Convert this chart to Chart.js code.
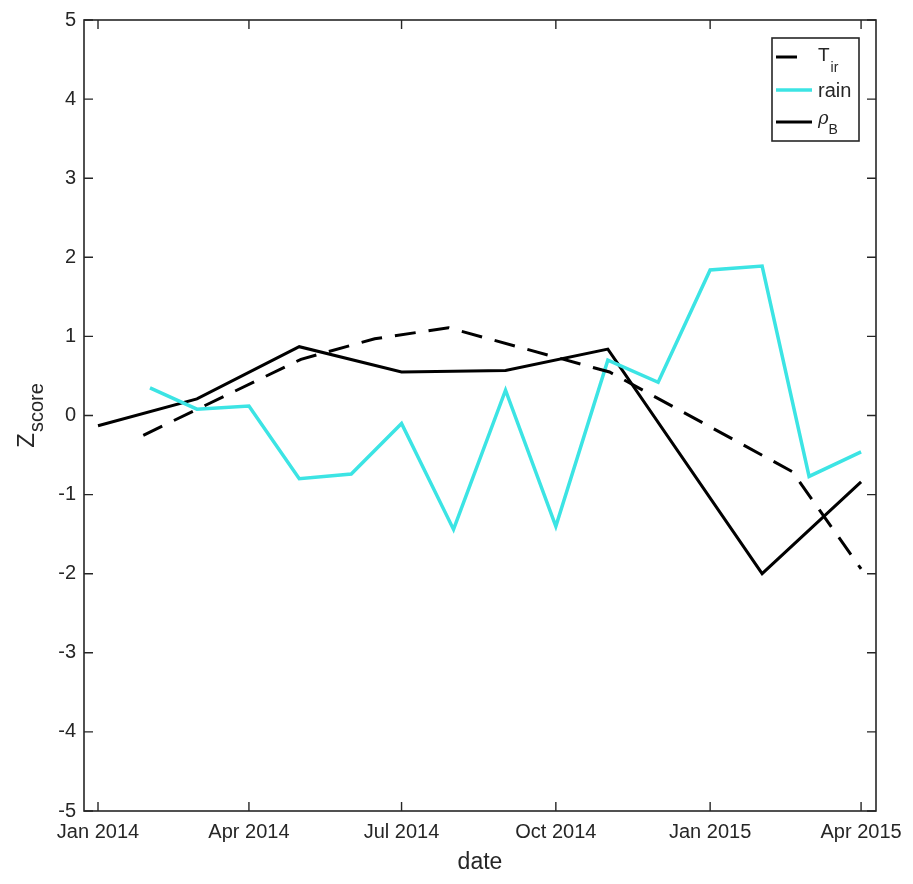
<!DOCTYPE html>
<html>
<head>
<meta charset="utf-8">
<script src="https://cdn.jsdelivr.net/npm/chart.js@4"></script>
<style>
  html, body { margin: 0; padding: 0; background: #ffffff; }
  canvas { display: block; }
</style>
</head>
<body>
<canvas id="c" width="913" height="884"></canvas>
<script>
// Axis ticks (dates) and their labels
const tickDates  = ['2014-01-01', '2014-04-01', '2014-07-01', '2014-10-01', '2015-01-01', '2015-04-01'];
const tickLabels = ['Jan 2014', 'Apr 2014', 'Jul 2014', 'Oct 2014', 'Jan 2015', 'Apr 2015'];
const yTicks     = [-5, -4, -3, -2, -1, 0, 1, 2, 3, 4, 5];

// T_ir (dashed black)
const tirDates  = ['2014-01-28', '2014-05-02', '2014-06-15', '2014-07-29', '2014-11-02', '2015-02-19', '2015-04-01'];
const tirValues = [-0.25, 0.71, 0.97, 1.11, 0.55, -0.71, -1.94];

// rain (cyan)
const rainDates  = ['2014-02-01', '2014-03-01', '2014-04-01', '2014-05-01', '2014-06-01', '2014-07-01', '2014-08-01',
                    '2014-09-01', '2014-10-01', '2014-11-01', '2014-12-01', '2015-01-01', '2015-02-01', '2015-03-01', '2015-04-01'];
const rainValues = [0.35, 0.08, 0.12, -0.80, -0.74, -0.10, -1.44, 0.32, -1.40, 0.70, 0.42, 1.84, 1.89, -0.77, -0.46];

// rho_B (solid black)
const rhoDates  = ['2014-01-01', '2014-03-01', '2014-05-01', '2014-07-01', '2014-09-01', '2014-11-01', '2015-02-01', '2015-04-01'];
const rhoValues = [-0.13, 0.21, 0.87, 0.55, 0.57, 0.84, -2.00, -0.84];

// x is measured in days since 1 Jan 2014
const ORIGIN = Date.UTC(2014, 0, 1);
const dayOf = s => (Date.parse(s + 'T00:00:00Z') - ORIGIN) / 86400000;
const toPoints = (dates, vals) => dates.map((d, i) => ({ x: dayOf(d), y: vals[i] }));

const AXIS_COLOR = '#262626';
const FONT = '"Liberation Sans", Arial, Helvetica, sans-serif';
const CYAN = 'rgb(60, 228, 228)';
const DASH = [21, 13];
const TICK_LEN = 9;

// Box around the axes with inward ticks on all four sides
const axesBox = {
  id: 'axesBox',
  afterDatasetsDraw(chart) {
    const { ctx, chartArea: a, scales: { x, y } } = chart;
    ctx.save();
    ctx.strokeStyle = AXIS_COLOR;
    ctx.lineWidth = 1.6;
    ctx.setLineDash([]);
    ctx.strokeRect(a.left, a.top, a.right - a.left, a.bottom - a.top);
    ctx.lineWidth = 1.4;
    ctx.beginPath();
    x.ticks.forEach(t => {
      const px = x.getPixelForValue(t.value);
      ctx.moveTo(px, a.bottom); ctx.lineTo(px, a.bottom - TICK_LEN);
      ctx.moveTo(px, a.top);    ctx.lineTo(px, a.top + TICK_LEN);
    });
    y.ticks.forEach(t => {
      const py = y.getPixelForValue(t.value);
      ctx.moveTo(a.left, py);  ctx.lineTo(a.left + TICK_LEN, py);
      ctx.moveTo(a.right, py); ctx.lineTo(a.right - TICK_LEN, py);
    });
    ctx.stroke();
    ctx.restore();
  }
};

// Y axis title "Z" with subscript "score"
const yTitle = {
  id: 'yTitle',
  afterDraw(chart) {
    const { ctx, chartArea: a } = chart;
    const cy = (a.top + a.bottom) / 2;
    ctx.save();
    ctx.fillStyle = AXIS_COLOR;
    ctx.textBaseline = 'alphabetic';
    ctx.textAlign = 'left';
    ctx.font = '24px ' + FONT;
    const zw = ctx.measureText('Z').width;
    ctx.font = '20px ' + FONT;
    const sw = ctx.measureText('score').width;
    const total = zw + 1 + sw;
    ctx.translate(34, cy + total / 2);
    ctx.rotate(-Math.PI / 2);
    ctx.font = '24px ' + FONT;
    ctx.fillText('Z', 0, 0);
    ctx.font = '20px ' + FONT;
    ctx.fillText('score', zw + 1, 9);
    ctx.restore();
  }
};

// Legend box in the upper right corner of the axes
const legendBox = {
  id: 'legendBox',
  afterDraw(chart) {
    const { ctx, chartArea: a } = chart;
    const bx = a.right - 104, by = a.top + 18, bw = 87, bh = 103;
    const ds = chart.data.datasets;
    ctx.save();
    ctx.fillStyle = '#ffffff';
    ctx.fillRect(bx, by, bw, bh);
    ctx.strokeStyle = AXIS_COLOR;
    ctx.lineWidth = 1.6;
    ctx.strokeRect(bx, by, bw, bh);

    const rows = [19, 52, 84];
    ds.forEach((d, i) => {
      const ly = by + rows[i];
      // a dashed series shows a single dash in its sample
      const len = d.borderDash ? d.borderDash[0] : 36;
      ctx.beginPath();
      ctx.strokeStyle = d.borderColor;
      ctx.lineWidth = d.borderWidth;
      ctx.setLineDash([]);
      ctx.moveTo(bx + 4, ly);
      ctx.lineTo(bx + 4 + len, ly);
      ctx.stroke();
    });
    ctx.fillStyle = AXIS_COLOR;
    ctx.textAlign = 'left';
    ctx.textBaseline = 'alphabetic';
    const tx = bx + 46;
    // T_ir
    ctx.font = '19px ' + FONT;
    ctx.fillText('T', tx, by + 23);
    let w = ctx.measureText('T').width;
    ctx.font = '14px ' + FONT;
    ctx.fillText('ir', tx + w + 1, by + 34);
    // rain
    ctx.font = '20px ' + FONT;
    ctx.fillText('rain', tx, by + 59);
    // rho_B
    ctx.font = 'italic 18px "DejaVu Serif", serif';
    ctx.fillText('\u03C1', tx, by + 86);
    w = ctx.measureText('\u03C1').width;
    ctx.font = '14px ' + FONT;
    ctx.fillText('B', tx + w, by + 96);
    ctx.restore();
  }
};

new Chart(document.getElementById('c'), {
  type: 'line',
  data: {
    datasets: [
      {
        label: 'T_ir',
        data: toPoints(tirDates, tirValues),
        borderColor: '#000000',
        borderWidth: 3,
        borderDash: DASH,
        pointRadius: 0,
        tension: 0,
        fill: false
      },
      {
        label: 'rain',
        data: toPoints(rainDates, rainValues),
        borderColor: CYAN,
        borderWidth: 3.5,
        pointRadius: 0,
        tension: 0,
        fill: false
      },
      {
        label: 'rho_B',
        data: toPoints(rhoDates, rhoValues),
        borderColor: '#000000',
        borderWidth: 3,
        pointRadius: 0,
        tension: 0,
        fill: false
      }
    ]
  },
  options: {
    responsive: false,
    animation: false,
    devicePixelRatio: 1,
    layout: { padding: { left: 0, top: 16, right: 37, bottom: 0 } },
    plugins: {
      legend: { display: false },
      tooltip: { enabled: false }
    },
    scales: {
      x: {
        type: 'linear',
        min: -8.35,
        max: 463.9,
        afterBuildTicks(scale) {
          scale.ticks = tickDates.map(d => ({ value: dayOf(d) }));
        },
        afterFit(scale) { scale.height = 73; },
        grid: { display: false, drawTicks: false },
        border: { display: false },
        ticks: {
          autoSkip: false,
          maxRotation: 0,
          minRotation: 0,
          padding: 9,
          color: AXIS_COLOR,
          font: { family: FONT, size: 20 },
          callback(value) {
            const i = tickDates.findIndex(d => dayOf(d) === value);
            return i >= 0 ? tickLabels[i] : '';
          }
        },
        title: {
          display: true,
          text: 'date',
          color: AXIS_COLOR,
          font: { family: FONT, size: 23 },
          padding: { top: 0, bottom: 8 }
        }
      },
      y: {
        type: 'linear',
        min: -5,
        max: 5,
        afterBuildTicks(scale) {
          scale.ticks = yTicks.map(v => ({ value: v }));
        },
        afterFit(scale) { scale.width = 84; },
        grid: { display: false, drawTicks: false },
        border: { display: false },
        ticks: {
          padding: 8,
          color: AXIS_COLOR,
          font: { family: FONT, size: 20 },
          callback(value) { return String(value); }
        }
      }
    }
  },
  plugins: [axesBox, yTitle, legendBox]
});
</script>
</body>
</html>
